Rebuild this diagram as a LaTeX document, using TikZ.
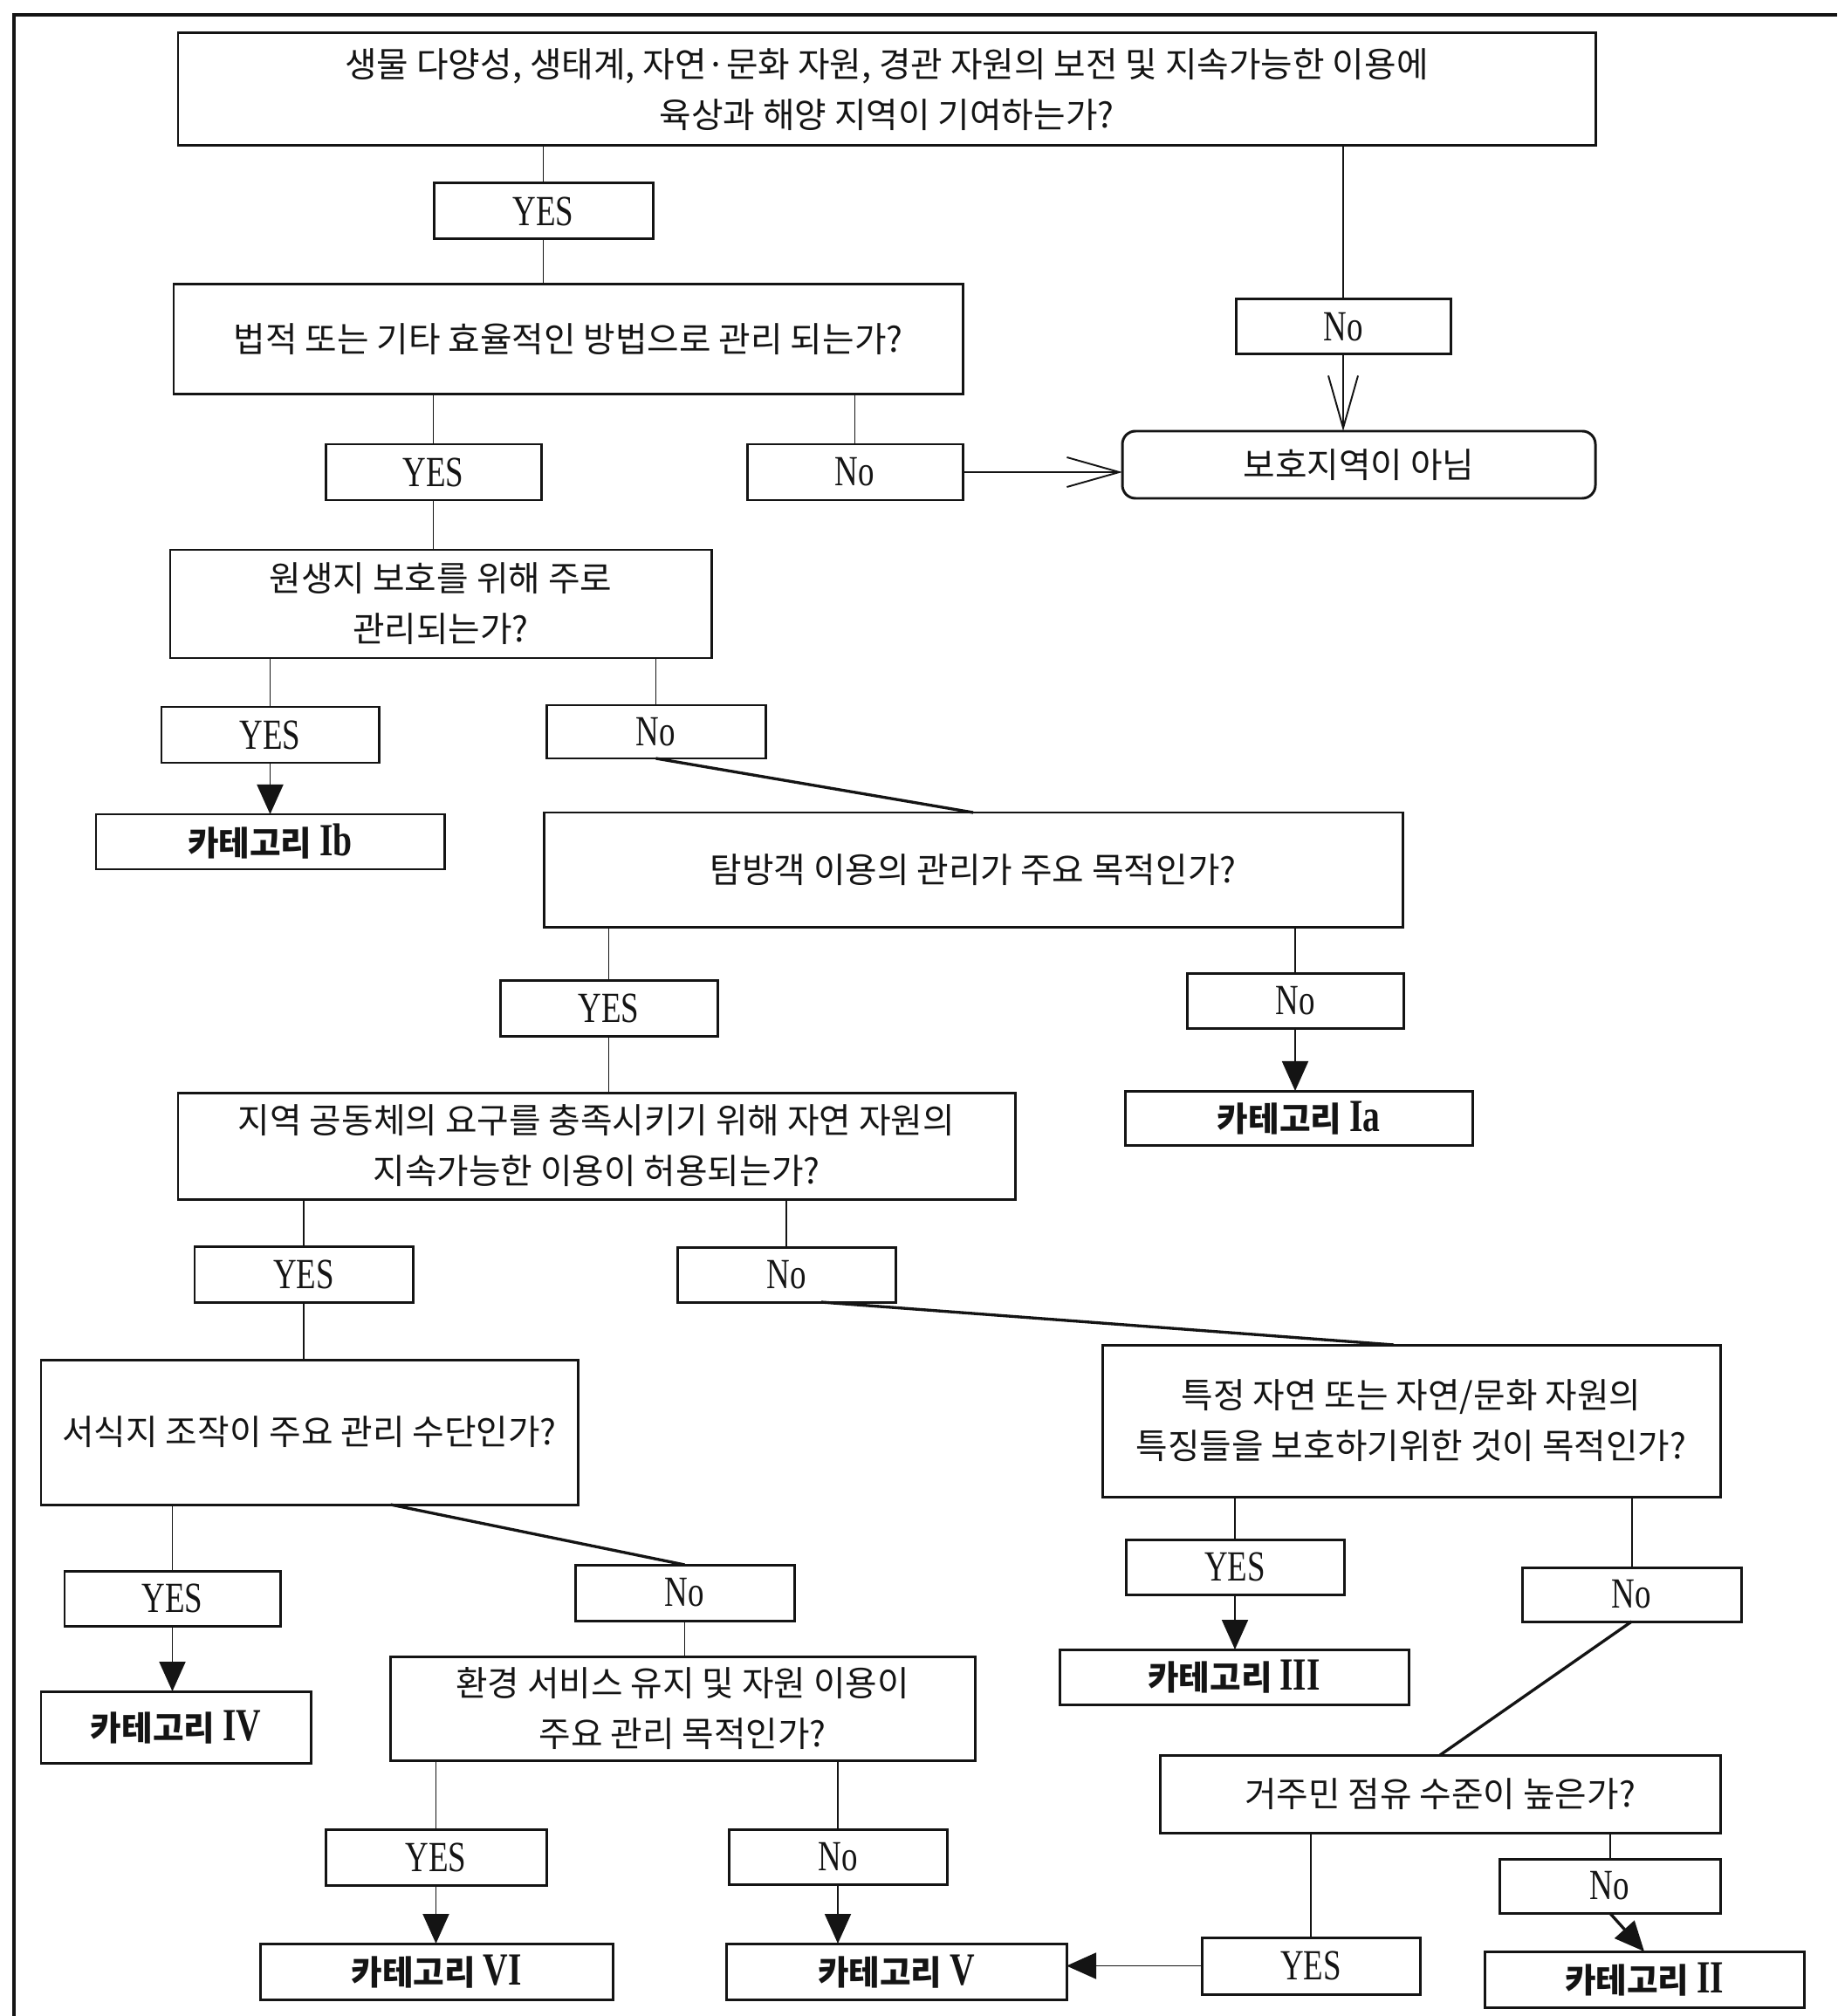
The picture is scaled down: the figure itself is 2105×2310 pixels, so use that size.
\documentclass[tikz,border=0pt]{standalone}
\usepackage{fontspec}
\setmainfont{Liberation Serif}
\newfontfamily\korfont{Noto Sans CJK KR}
\newfontfamily\ansfont[FakeStretch=0.75]{Liberation Serif}
\usetikzlibrary{arrows.meta}
\definecolor{color_ink}{HTML}{141414}
\def\boxlinewidth{0.85pt}
\def\linklinewidth{0.55pt}
\def\slantlinewidth{0.95pt}
\tikzset{
  box_base/.style={draw=color_ink, line width=\boxlinewidth, rectangle, inner sep=0pt, outer sep=0pt, align=center, text=color_ink},
  box_question/.style={box_base, font=\korfont\fontsize{11.3}{16.5}\selectfont},
  box_answer/.style={box_base, font=\ansfont\fontsize{14}{16}\selectfont},
  box_category/.style={box_base, font=\korfont\bfseries\fontsize{11}{14}\selectfont},
  box_end/.style={box_question, rounded corners=1.5mm},
  line_link/.style={draw=color_ink, line width=\linklinewidth},
  line_slant/.style={draw=color_ink, line width=\slantlinewidth},
  arrow_fill/.style={line_link, -{Triangle[length=3.4mm,width=3mm]}},
  arrow_open/.style={line_link, -{Straight Barb[length=6mm,width=3.4mm,line width=\linklinewidth]}},
}
% box given by its corners in pixels: left, top, right, bottom
\def\flowbox[#1](#2)(#3,#4,#5,#6)#7{%
  \node[#1, minimum width={(#5-#3)*0.01cm}, minimum height={(#6-#4)*0.01cm}] (#2) at ({(#3+#5)/2},{(#4+#6)/2}) {#7};
}
\def\catnum#1{{\ansfont\bfseries\fontsize{15}{16}\selectfont #1}}

\begin{document}
\begin{tikzpicture}[x=0.01cm, y=-0.01cm]
        \useasboundingbox (0,0) rectangle (2105,2310);
        \draw[color_ink, line width=0.9pt] (16,2310) -- (16,17) -- (2105,17);
        % questions
        \flowbox[box_question](q1)(204,38,1828,167){생물 다양성, 생태계, 자연·문화 자원, 경관 자원의 보전 및 지속가능한 이용에\\육상과 해양 지역이 기여하는가?}
        \flowbox[box_question](q2)(199,326,1103,452){법적 또는 기타 효율적인 방법으로 관리 되는가?}
        \flowbox[box_question](q3)(195,630,815,754){원생지 보호를 위해 주로\\관리되는가?}
        \flowbox[box_question](q4)(623,931,1607,1062){탐방객 이용의 관리가 주요 목적인가?}
        \flowbox[box_question](q5)(204,1252,1163,1374){지역 공동체의 요구를 충족시키기 위해 자연 자원의\\지속가능한 이용이 허용되는가?}
        \flowbox[box_question](q6)(47,1558,662,1724){서식지 조작이 주요 관리 수단인가?}
        \flowbox[box_question](q7)(1263,1541,1971,1715){특정 자연 또는 자연/문화 자원의\\특징들을 보호하기위한 것이 목적인가?}
        \flowbox[box_question](q8)(447,1898,1117,2017){환경 서비스 유지 및 자원 이용이\\주요 관리 목적인가?}
        \flowbox[box_question](q9)(1329,2011,1971,2100){거주민 점유 수준이 높은가?}
        \flowbox[box_end](notpa)(1286,494,1828,571){보호지역이 아님}
        % answers
        \flowbox[box_answer](yes1)(497,210,748,274){YES}
        \flowbox[box_answer](no1)(1416,343,1662,406){No}
        \flowbox[box_answer](yes2)(373,509,620,573){YES}
        \flowbox[box_answer](no2)(856,509,1103,573){No}
        \flowbox[box_answer](yes3)(185,810,434,874){YES}
        \flowbox[box_answer](no3)(626,808,877,869){No}
        \flowbox[box_answer](yes4)(573,1123,822,1187){YES}
        \flowbox[box_answer](no4)(1360,1115,1608,1178){No}
        \flowbox[box_answer](yes5)(223,1428,473,1492){YES}
        \flowbox[box_answer](no5)(776,1429,1026,1492){No}
        \flowbox[box_answer](yes6)(74,1800,321,1863){YES}
        \flowbox[box_answer](no6)(659,1793,910,1857){No}
        \flowbox[box_answer](yes7)(1290,1764,1540,1827){YES}
        \flowbox[box_answer](no7)(1744,1796,1995,1858){No}
        \flowbox[box_answer](yes8)(373,2096,626,2160){YES}
        \flowbox[box_answer](no8)(835,2096,1085,2159){No}
        \flowbox[box_answer](yes9)(1377,2220,1627,2285){YES}
        \flowbox[box_answer](no9)(1718,2130,1971,2192){No}
        % categories
        \flowbox[box_category](catib)(110,933,509,996){카테고리 \catnum{Ib}}
        \flowbox[box_category](catia)(1289,1250,1687,1312){카테고리 \catnum{Ia}}
        \flowbox[box_category](cativ)(47,1938,356,2020){카테고리 \catnum{IV}}
        \flowbox[box_category](catiii)(1214,1890,1614,1953){카테고리 \catnum{III}}
        \flowbox[box_category](catvi)(298,2227,702,2291){카테고리 \catnum{VI}}
        \flowbox[box_category](catv)(832,2227,1222,2291){카테고리 \catnum{V}}
        \flowbox[box_category](catii)(1701,2236,2067,2300){카테고리 \catnum{II}}
        % links
        \draw[line_link] (q1.south -| yes1.north) -- (yes1.north);
        \draw[line_link] (yes1.south) -- (yes1.south |- q2.north);
        \draw[line_link] (q1.south -| no1.north) -- (no1.north);
        \draw[arrow_open] (no1.south) -- (no1.south |- notpa.north);
        \draw[line_link] (q2.south -| yes2.north) -- (yes2.north);
        \draw[line_link] (q2.south -| no2.north) -- (no2.north);
        \draw[arrow_open] (no2.east) -- (no2.east -| notpa.west);
        \draw[line_link] (yes2.south) -- (yes2.south |- q3.north);
        \draw[line_link] (q3.south -| yes3.north) -- (yes3.north);
        \draw[line_link] (q3.south -| no3.north) -- (no3.north);
        \draw[arrow_fill] (yes3.south) -- (yes3.south |- catib.north);
        \draw[line_slant] (no3.south) -- (q4.north);
        \draw[line_link] (q4.south -| yes4.north) -- (yes4.north);
        \draw[line_link] (q4.south -| no4.north) -- (no4.north);
        \draw[arrow_fill] (no4.south) -- (no4.south |- catia.north);
        \draw[line_link] (yes4.south) -- (yes4.south |- q5.north);
        \draw[line_link] (q5.south -| yes5.north) -- (yes5.north);
        \draw[line_link] (q5.south -| no5.north) -- (no5.north);
        \draw[line_link] (yes5.south) -- (yes5.south |- q6.north);
        \draw[line_slant] ([xshift=0.4cm]no5.south) -- ([xshift=-0.2cm]q7.north);
        \draw[line_link] (q6.south -| yes6.north) -- (yes6.north);
        \draw[line_slant] ([xshift=0.93cm]q6.south) -- (no6.north);
        \draw[arrow_fill] (yes6.south) -- (yes6.south |- cativ.north);
        \draw[line_link] (no6.south) -- (no6.south |- q8.north);
        \draw[line_link] (q7.south -| yes7.north) -- (yes7.north);
        \draw[line_link] (q7.south -| no7.north) -- (no7.north);
        \draw[arrow_fill] (yes7.south) -- (yes7.south |- catiii.north);
        \draw[line_slant] (no7.south) -- (q9.north);
        \draw[line_link] (q8.south -| yes8.north) -- (yes8.north);
        \draw[line_link] (q8.south -| no8.north) -- (no8.north);
        \draw[arrow_fill] (yes8.south) -- (yes8.south |- catvi.north);
        \draw[arrow_fill] (no8.south) -- (no8.south |- catv.north);
        \draw[line_link] (q9.south -| yes9.north) -- (yes9.north);
        \draw[line_link] (q9.south -| no9.north) -- (no9.north);
        \draw[arrow_fill] (yes9.west) -- (yes9.west -| catv.east);
        \draw[arrow_fill, line_slant] (no9.south) -- (catii.north);
\end{tikzpicture}
\end{document}
